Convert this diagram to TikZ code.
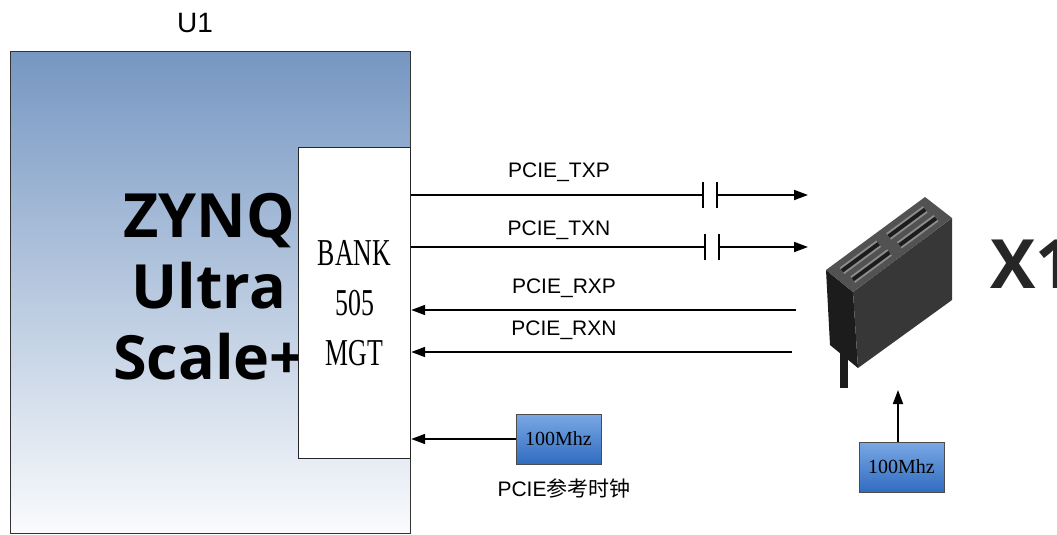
\documentclass[tikz,border=0pt]{standalone}
\usepackage{fontspec}
\setmainfont{Liberation Sans}
\newfontfamily\zynqfont{Open Sans}
\newfontfamily\bankfont[FakeStretch=0.68]{Liberation Serif}
\newfontfamily\clkfont{Liberation Serif}
\newfontfamily\cjk{Noto Sans CJK SC}
\usetikzlibrary{arrows.meta}
\definecolor{u1top}{RGB}{118,151,194}
\definecolor{u1bot}{RGB}{250,251,253}
\definecolor{clktop}{RGB}{122,168,228}
\definecolor{clkbot}{RGB}{48,108,192}
\definecolor{slotdark}{RGB}{28,28,28}
\definecolor{slotmid}{RGB}{55,55,55}
\definecolor{slotlight}{RGB}{82,82,82}
\tikzset{
  u1box/.style={draw=black!80, line width=1.4pt, top color=u1top, bottom color=u1bot, anchor=north west},
  bankbox/.style={draw=black!85, line width=1.2pt, fill=white, anchor=north west, align=center,
    font=\bankfont\fontsize{38}{50}\selectfont},
  clkbox/.style={draw=black!70, line width=0.8pt, top color=clktop, bottom color=clkbot,
    minimum width=85pt, minimum height=50pt, font=\clkfont\fontsize{20}{22}\selectfont},
  siglbl/.style={font=\fontsize{21}{23}\selectfont, inner sep=0pt},
  wire/.style={line width=1.8pt},
  sig/.style={line width=1.8pt, -{Triangle[length=14pt,width=10pt]}},
  capplate/.style={line width=1.8pt},
  groove/.style={line width=8pt, draw=black!45},
  groovein/.style={line width=4pt, draw=slotdark},
}
\begin{document}
\begin{tikzpicture}[x=1pt,y=-1pt]
\useasboundingbox (0,0) rectangle (1057,535);
% U1 block
\node[font=\fontsize{28}{30}\selectfont] (u1lbl) at (195,23) {U1};
\node[u1box, minimum width=400pt, minimum height=482pt] (u1) at (10,51) {};
\node[font=\zynqfont\bfseries\fontsize{61}{71}\selectfont, align=center, inner sep=0pt] (zynq) at (209,287) {ZYNQ\\Ultra\\Scale+};
\node[bankbox, minimum width=112pt, minimum height=311pt] (bank) at (298,147) {BANK\\505\\MGT};
% TX pair with coupling caps
\coordinate (txpcapl) at (703,195);
\coordinate (txpcapr) at (717,195);
\coordinate (txpend) at (808,195);
\coordinate (txncapl) at (705,247);
\coordinate (txncapr) at (719,247);
\coordinate (txnend) at (808,247);
\draw[wire] (bank.east |- txpcapl) -- (txpcapl);
\draw[capplate] (txpcapl) ++(0,-13) -- ++(0,26);
\draw[capplate] (txpcapr) ++(0,-13) -- ++(0,26);
\draw[sig] (txpcapr) -- (txpend);
\draw[wire] (bank.east |- txncapl) -- (txncapl);
\draw[capplate] (txncapl) ++(0,-13) -- ++(0,26);
\draw[capplate] (txncapr) ++(0,-13) -- ++(0,26);
\draw[sig] (txncapr) -- (txnend);
\node[siglbl] (txplbl) at (559,172) {PCIE\_TXP};
\node[siglbl] (txnlbl) at (559,230) {PCIE\_TXN};
% RX pair
\coordinate (rxpstart) at (796,310);
\coordinate (rxnstart) at (792,352);
\draw[sig] (rxpstart) -- (bank.east |- rxpstart);
\draw[sig] (rxnstart) -- (bank.east |- rxnstart);
\node[siglbl] (rxplbl) at (564,288) {PCIE\_RXP};
\node[siglbl] (rxnlbl) at (564,330) {PCIE\_RXN};
% reference clocks
\node[clkbox] (clkleft) at (558.5,439) {100Mhz};
\draw[sig] (clkleft.west) -- (bank.east |- clkleft.west);
\node[font=\fontsize{21}{23}\selectfont, inner sep=0pt] (clklbl) at (564,488) {PCIE{\cjk 参考时钟}};
\node[clkbox] (clkright) at (901.5,467) {100Mhz};
\coordinate (slotbot) at (898,390);
\draw[sig] (slotbot |- clkright.north) -- (slotbot);
% x1 slot
\fill[slotdark] (826,270) -- (853,292) -- (858,368) -- (830,345) -- cycle;
\fill[slotmid] (853,292) -- (952,218) -- (952,300) -- (858,368) -- cycle;
\fill[slotlight] (826,270) -- (925,197) -- (952,218) -- (853,292) -- cycle;
\fill[slotdark] (840,350) rectangle (848,388);
\draw[groove] (842,270.8) -- (878.7,243.7);
\draw[groove] (888.6,236.4) -- (925.2,209.4);
\draw[groove] (852.8,279.6) -- (889.5,252.5);
\draw[groove] (899.4,245.2) -- (936,218.2);
\draw[groovein] (842,270.8) -- (878.7,243.7);
\draw[groovein] (888.6,236.4) -- (925.2,209.4);
\draw[groovein] (852.8,279.6) -- (889.5,252.5);
\draw[groovein] (899.4,245.2) -- (936,218.2);
\node[font=\zynqfont\bfseries\fontsize{68}{68}\selectfont, anchor=base west, inner sep=0pt, text=black!85] (x1lbl) at (990,288) {X1};
\end{tikzpicture}
\end{document}
